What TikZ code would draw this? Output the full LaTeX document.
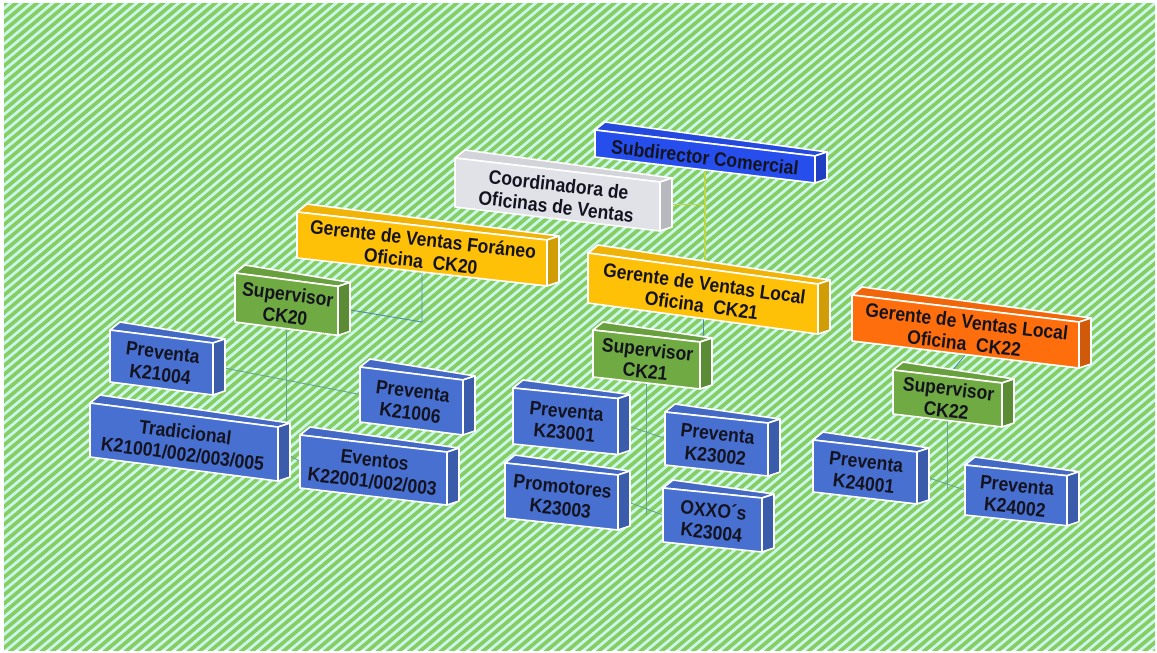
\documentclass[tikz,border=0pt]{standalone}
\usepackage{fontspec}
\setmainfont{Liberation Sans}[FakeStretch=0.9]
\usetikzlibrary{calc}
\pgfdeclarelayer{stripes}
\pgfdeclarelayer{links}
\pgfsetlayers{stripes,links,main}
\definecolor{mint}{RGB}{204,247,236}
\definecolor{stripegreen}{RGB}{134,206,98}
\definecolor{boxblue}{RGB}{72,112,208}
\definecolor{subblue}{RGB}{38,78,236}
\definecolor{boxyellow}{RGB}{255,192,8}
\definecolor{boxorange}{RGB}{255,110,12}
\definecolor{boxgreen}{RGB}{112,170,66}
\definecolor{boxgrey}{RGB}{224,226,232}
\definecolor{textdark}{RGB}{20,20,32}
\definecolor{linkteal}{RGB}{80,140,170}
\definecolor{linklime}{RGB}{190,215,70}
\tikzset{
  boxedge/.style={draw=white,line width=1.6pt,line join=round},
  boxtext/.style={text=textdark,align=center,inner sep=0pt,font=\fontsize{19.5}{22}\selectfont\bfseries},
  link/.style={draw=linkteal,line width=0.9pt},
  softlink/.style={draw=linkteal!60!stripegreen,line width=0.9pt},
  limelink/.style={draw=linklime,line width=1.2pt}
}
\newcommand{\cbox}[8]{%
  \pgfmathsetmacro\cbX{#2}%
  \pgfmathsetmacro\cbY{#3}%
  \pgfmathsetmacro\cbW{#4}%
  \pgfmathsetmacro\cbH{#5}%
  \pgfmathsetmacro\cbS{#6}%
  \pgfmathsetmacro\cbRX{\cbX+\cbW}%
  \pgfmathsetmacro\cbRY{\cbY+\cbS*\cbW}%
  \pgfmathsetmacro\cbA{-atan(\cbS)}%
  \filldraw[boxedge,fill=#7!94!black] (\cbX,\cbY) -- (\cbRX,\cbRY) -- (\cbRX+12,\cbRY-4) -- (\cbX+10,\cbY-8) -- cycle;
  \filldraw[boxedge,fill=#7!82!black] (\cbRX,\cbRY) -- (\cbRX,\cbRY+\cbH) -- (\cbRX+12,\cbRY+\cbH-4) -- (\cbRX+12,\cbRY-4) -- cycle;
  \filldraw[boxedge,fill=#7] (\cbX,\cbY) -- (\cbRX,\cbRY) -- (\cbRX,\cbRY+\cbH) -- (\cbX,\cbY+\cbH) -- cycle;
  \node[boxtext,rotate=\cbA] (#1) at ({\cbX+\cbW/2},{\cbY+\cbS*\cbW/2+\cbH/2+1}) {#8};
  \coordinate (#1-t) at ({\cbX+\cbW/2},{\cbY+\cbS*\cbW/2});
  \coordinate (#1-b) at ({\cbX+\cbW/2},{\cbY+\cbS*\cbW/2+\cbH});
  \coordinate (#1-l) at (\cbX,{\cbY+\cbH/2});
  \coordinate (#1-r) at ({\cbRX+6},{\cbRY+\cbH/2-2});
}
\begin{document}
\begin{tikzpicture}[x=1pt,y=-1pt]
\useasboundingbox (0,0) rectangle (1157,653);
\begin{pgfonlayer}{stripes}
  \fill[white] (0,0) rectangle (1157,653);
  \begin{scope}
    \clip (4,3) rectangle (1155,650);
    \fill[mint] (4,3) rectangle (1155,650);
    \foreach \i in {-78,...,112} {
      \draw[stripegreen,line width=3.7pt] (\i*10.5,660) -- (\i*10.5+792,-5);
    }
  \end{scope}
\end{pgfonlayer}

% boxes (back to front)
\cbox{sub}{595}{130}{220}{27}{0.118}{subblue}{Subdirector Comercial}
\cbox{coord}{455}{158}{205}{49}{0.117}{boxgrey}{Coordinadora de\\Oficinas de Ventas}
\cbox{gvf}{297}{212}{250}{46}{0.112}{boxyellow}{Gerente de Ventas For\'aneo\\Oficina~~CK20}
\cbox{gl21}{588}{253}{230}{50}{0.135}{boxyellow}{Gerente de Ventas Local\\Oficina~~CK21}
\cbox{gl22}{852}{295}{227}{46}{0.119}{boxorange}{Gerente de Ventas Local\\Oficina~~CK22}
\cbox{sup20}{235}{273}{103}{49}{0.13}{boxgreen}{Supervisor\\CK20}
\cbox{sup21}{593}{330}{107}{47}{0.112}{boxgreen}{Supervisor\\CK21}
\cbox{sup22}{893}{370}{109}{44}{0.119}{boxgreen}{Supervisor\\CK22}
\cbox{p04}{110}{330}{103}{52}{0.126}{boxblue}{Preventa\\K21004}
\cbox{p06}{360}{367}{103}{55}{0.126}{boxblue}{Preventa\\K21006}
\cbox{trad}{90}{403}{188}{54}{0.128}{boxblue}{Tradicional\\K21001/002/003/005}
\cbox{ev}{300}{435}{147}{53}{0.116}{boxblue}{Eventos\\K22001/002/003}
\cbox{p01}{513}{388}{105}{56}{0.1}{boxblue}{Preventa\\K23001}
\cbox{p02}{665}{412}{103}{53}{0.107}{boxblue}{Preventa\\K23002}
\cbox{prom}{505}{463}{113}{55}{0.106}{boxblue}{Promotores\\K23003}
\cbox{oxxo}{663}{488}{99}{54}{0.101}{boxblue}{OXXO´s\\K23004}
\cbox{p241}{813}{440}{104}{52}{0.115}{boxblue}{Preventa\\K24001}
\cbox{p242}{965}{465}{102}{50}{0.105}{boxblue}{Preventa\\K24002}

% connectors
\begin{pgfonlayer}{links}
  \draw[limelink] (sub-b) -- (sub-b |- gl21-t);
  \draw[limelink] (coord-r) -- (coord-r -| sub-b);
  \draw[link] (gvf-b) -- ++(0,50) -- (sup20-r);
  \draw[softlink] (sup20-b) -- (sup20-b |- ev-l);
  \draw[softlink] (trad-r) -- (ev-l);
  \draw[softlink] (p04-r) -- (p06-l);
  \draw[link] (gl21-b) -- (gl21-b |- sup21-t);
  \draw[softlink] (sup21-b) -- (sup21-b |- oxxo-l);
  \draw[softlink] (p01-r) -- (p02-l);
  \draw[softlink] (prom-r) -- (oxxo-l);
  \draw[link] (gl22-b) -- (sup22-t);
  \draw[softlink] (sup22-b) -- (sup22-b |- p242-l);
  \draw[softlink] (p241-r) -- (p242-l);
\end{pgfonlayer}
\end{tikzpicture}
\end{document}
